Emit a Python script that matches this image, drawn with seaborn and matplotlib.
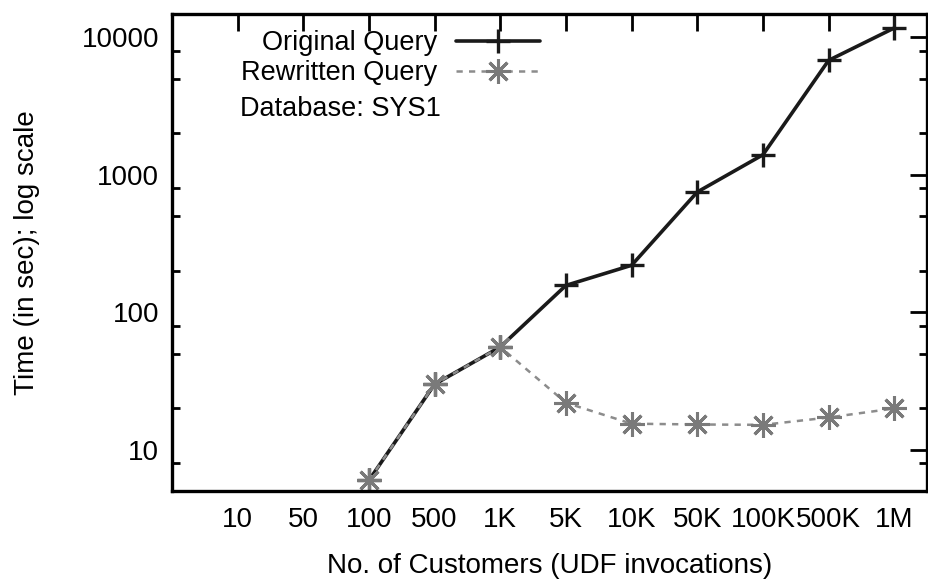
import numpy as np
import pandas as pd
import seaborn as sns
import matplotlib
matplotlib.use("Agg")
import matplotlib.pyplot as plt
from matplotlib.legend import Legend
from matplotlib.ticker import FixedLocator, NullFormatter

# data
customers = ["10", "50", "100", "500", "1K", "5K", "10K", "50K", "100K", "500K", "1M"]
original = [np.nan, np.nan, 6, 30, 56, 157, 220, 750, 1400, 6800, 11700]
rewritten = [np.nan, np.nan, 6, 30, 56, 22, 15.5, 15.3, 15.2, 17.2, 20]
yticks = [10, 100, 1000, 10000]

FS = 20

sns.set_theme(style="white")
plt.rcParams["font.family"] = ["Liberation Sans", "DejaVu Sans"]
plt.rcParams["font.size"] = FS
plt.rcParams["text.color"] = "black"
plt.rcParams["axes.labelcolor"] = "black"

pos = np.arange(len(customers))
df = pd.DataFrame({"pos": pos, "orig": original, "rew": rewritten})

fig = plt.figure(figsize=(9.29, 5.80), dpi=100)
ax = fig.add_axes([0.185, 0.153, 0.813, 0.823])

sns.lineplot(data=df, x="pos", y="orig", ax=ax, color="#1a1a1a", lw=2.6,
             marker="+", markersize=17, markeredgewidth=2.4,
             markeredgecolor="#1a1a1a", label="Original Query")
sns.lineplot(data=df, x="pos", y="rew", ax=ax, color="#8c8c8c", lw=1.8,
             linestyle=(0, (2.5, 2.5)), marker=(8, 2, 0), markersize=18,
             markeredgewidth=2.2, markeredgecolor="#7a7a7a",
             label="Rewritten Query")

ax.set_yscale("log")
ax.set_ylim(5, 14800)
ax.set_xlim(-1, 10.5)

ax.set_xticks(pos)
ax.set_xticklabels(customers, fontsize=FS)
ax.yaxis.set_major_locator(FixedLocator(yticks))
ax.set_yticklabels([str(v) for v in yticks], fontsize=FS)
minors = [m * 10 ** e for e in range(0, 5) for m in (2, 5, 8)]
ax.yaxis.set_minor_locator(FixedLocator(minors))
ax.yaxis.set_minor_formatter(NullFormatter())

ax.tick_params(axis="x", which="major", direction="in", length=12, width=2,
               top=True, pad=11, colors="black")
ax.tick_params(axis="y", which="major", direction="in", length=12, width=2,
               right=True, pad=9, colors="black")
ax.tick_params(axis="y", which="minor", direction="in", length=6, width=2,
               right=True, left=True, colors="black")
ax.tick_params(axis="x", which="minor", bottom=False, top=False)
for s in ax.spines.values():
    s.set_linewidth(2.4)
    s.set_color("black")

ax.set_xlabel("No. of Customers (UDF invocations)", fontsize=FS, labelpad=15)
ax.set_ylabel("Time (in sec); log scale", fontsize=FS, labelpad=30)

# gnuplot-style key: text right-aligned, sample to the right
handles, labels = ax.get_legend_handles_labels()
ax.get_legend().remove()
for h, lab, yy in zip(handles, labels, [0.939, 0.876]):
    leg = Legend(ax, [h], [lab], loc="center right", bbox_to_anchor=(0.487, yy),
                 frameon=False, markerfirst=False, handlelength=3.1,
                 handletextpad=0.7, fontsize=19.5, borderpad=0,
                 borderaxespad=0)
    ax.add_artist(leg)

ax.text(0.09, 0.80, "Database: SYS1", transform=ax.transAxes, fontsize=19.5,
        ha="left", va="center")

fig.savefig("out.png", dpi=100)
